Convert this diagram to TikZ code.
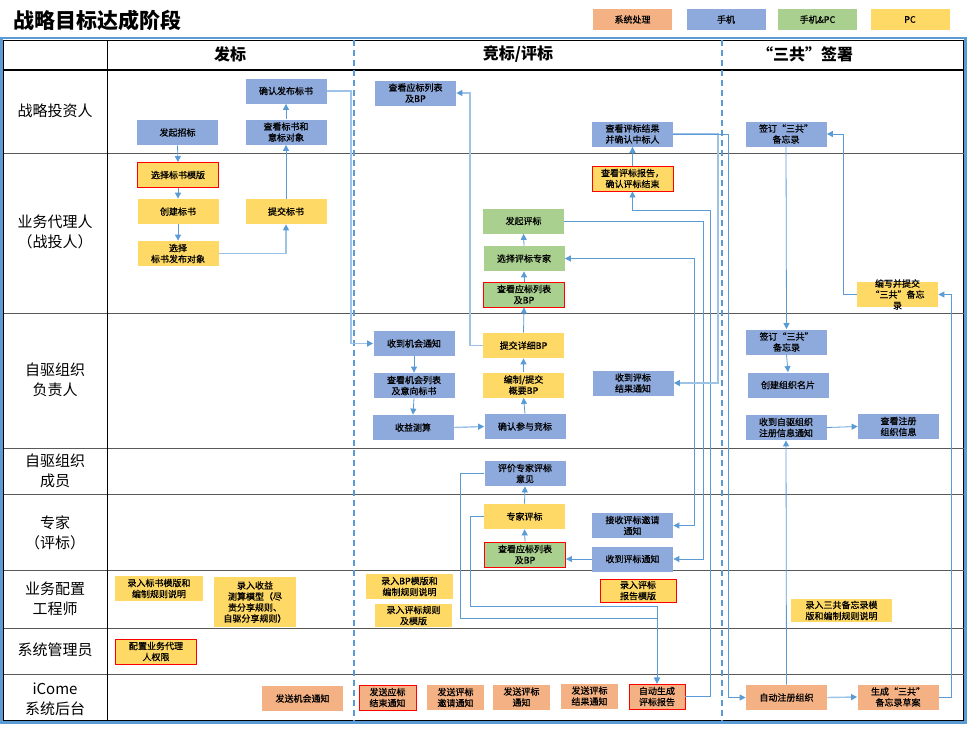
\documentclass[tikz,border=0pt]{standalone}
\usepackage{fontspec}
\setmainfont{Noto Sans CJK SC}
\newfontfamily\boxfont[FakeBold=0.8]{Noto Sans CJK SC}
\usetikzlibrary{arrows.meta}
\definecolor{phoneblue}{HTML}{8EA9DB}
\definecolor{pcyellow}{HTML}{FFD966}
\definecolor{bothgreen}{HTML}{A9D08E}
\definecolor{sysorange}{HTML}{F4B183}
\definecolor{linkblue}{HTML}{5B9BD5}
\definecolor{lightlink}{HTML}{9DC3E6}
\definecolor{rowgray}{HTML}{7F7F7F}
\tikzset{every picture/.style={line width=0.75pt}}

\begin{document}
\begin{tikzpicture}[x=1pt,y=-1pt,
    box/.style={minimum width=81pt, minimum height=25pt, inner sep=0pt, align=center, font=\boxfont\fontsize{9}{11}\selectfont},
    phone/.style={box, fill=phoneblue},
    pcbox/.style={box, fill=pcyellow},
    both/.style={box, fill=bothgreen},
    sysbox/.style={box, fill=sysorange},
    redframe/.style={draw=red, line width=0.9pt},
    conn/.style={draw=linkblue, line width=0.8pt, -{Triangle[width=6pt,length=6pt]}},
    lightconn/.style={draw=lightlink, line width=1.4pt, -{Triangle[width=6pt,length=6pt,color=linkblue]}},
    lane/.style={font=\fontsize{15}{20}\selectfont, align=center},
    head/.style={font=\bfseries\fontsize{16}{18}\selectfont}]
    \useasboundingbox (0,0) rectangle (968,728);

    % 标题和图例
    \node[anchor=west, font=\bfseries\fontsize{21}{24}\selectfont] (title) at (10,20) {战略目标达成阶段};
    \node[sysbox, minimum width=79pt, minimum height=21pt] (lgsys) at (632.5,19.5) {系统处理};
    \node[phone, minimum width=79pt, minimum height=21pt] (lgphone) at (726,19.5) {手机};
    \node[both, minimum width=79pt, minimum height=21pt] (lgboth) at (817.5,19.5) {手机\&PC};
    \node[pcbox, minimum width=79pt, minimum height=21pt] (lgpc) at (910,19.5) {PC};

    % 表格
    \draw[linkblue, line width=2.5pt] (1.5,38) rectangle (965.5,722.5);
    \draw[black, line width=0.8pt] (3.5,40) rectangle (963.5,720.5);
    \draw[black, line width=1.2pt] (3.5,70) -- (963.5,70);
    \foreach \y in {153,313,448,494,570,628,674}
        \draw[rowgray!70!black, line width=1pt] (3.5,\y) -- (963.5,\y);
    \draw[black, line width=1pt] (107,40) -- (107,720.5);
    \draw[linkblue, line width=1.6pt, dash pattern=on 6pt off 4pt] (354,40) -- (354,720.5);
    \draw[linkblue, line width=1.6pt, dash pattern=on 6pt off 4pt] (722,40) -- (722,720.5);

    % 阶段
    \node[head] (hfb) at (230,54) {发标};
    \node[head] (hjb) at (518,54) {竞标/评标};
    \node[head] (hsg) at (805,54) {“三共”签署};

    % 角色
    \node[lane] (rtz) at (55,111) {战略投资人};
    \node[lane] (rdl) at (55,232) {业务代理人\\（战投人）};
    \node[lane] (rfz) at (55,380) {自驱组织\\负责人};
    \node[lane] (rcy) at (55,471) {自驱组织\\成员};
    \node[lane] (rzj) at (55,533) {专家\\（评标）};
    \node[lane] (rgc) at (55,599) {业务配置\\工程师};
    \node[lane] (rgl) at (55,650) {系统管理员};
    \node[lane] (rht) at (55,699) {iCome\\系统后台};

    % 发标
    \node[phone] (fqzb) at (177.5,132.5) {发起招标};
    \node[phone] (qrfb) at (286,91) {确认发布标书};
    \node[phone] (ckbs) at (286,132) {查看标书和\\意标对象};
    \node[pcbox, redframe] (xzmb) at (178,175) {选择标书模版};
    \node[pcbox] (cjbs) at (178,211.5) {创建标书};
    \node[pcbox] (xzfb) at (178,253.5) {选择\\标书发布对象};
    \node[pcbox] (tjbs) at (286,211.5) {提交标书};
    \node[pcbox, minimum width=88pt] (lrbs) at (159,588.5) {录入标书模版和\\编制规则说明};
    \node[pcbox, minimum width=82pt, minimum height=50pt] (lrsy) at (255,602) {录入收益\\测算模型（尽\\责分享规则、\\自驱分享规则）};
    \node[pcbox, redframe] (pzqx) at (156,651.5) {配置业务代理\\人权限};
    \node[sysbox] (fsjh) at (302.5,698.5) {发送机会通知};

    % 竞标/评标
    \node[phone] (cktbi) at (415.5,93) {查看应标列表\\及BP};
    \node[phone] (ckjg) at (632.5,134) {查看评标结果\\并确认中标人};
    \node[pcbox, redframe] (ckbg) at (632.5,178.5) {查看评标报告，\\确认评标结束};
    \node[both] (fqpb) at (523.5,221) {发起评标};
    \node[both] (xzzj) at (524,258.5) {选择评标专家};
    \node[both, redframe] (cktba) at (524,294.5) {查看应标列表\\及BP};
    \node[phone] (sdjh) at (414,343.5) {收到机会通知};
    \node[phone] (ckjh) at (414,385.5) {查看机会列表\\及意向标书};
    \node[phone] (sycs) at (413,427.5) {收益测算};
    \node[pcbox] (tjxx) at (523.5,345.5) {提交详细BP};
    \node[pcbox] (bzgy) at (523.5,385) {编制/提交\\概要BP};
    \node[phone] (qrcy) at (525,426.5) {确认参与竞标};
    \node[phone] (sdjgtz) at (633,383) {收到评标\\结果通知};
    \node[phone] (pjyj) at (525,473.5) {评价专家评标\\意见};
    \node[pcbox] (zjpb) at (524.5,516.5) {专家评标};
    \node[both, redframe] (cktbe) at (525,554.5) {查看应标列表\\及BP};
    \node[phone] (jsyq) at (632.5,525.5) {接收评标邀请\\通知};
    \node[phone] (sdpb) at (632.5,559) {收到评标通知};
    \node[pcbox, minimum width=87pt] (lrbp) at (409.5,586.5) {录入BP模版和\\编制规则说明};
    \node[pcbox, minimum width=77pt, minimum height=23pt] (lrgz) at (413.5,615.5) {录入评标规则\\及模版};
    \node[pcbox, redframe, minimum width=76pt, minimum height=23pt] (lrbg) at (638,590.5) {录入评标\\报告模版};
    \node[sysbox, redframe, minimum width=57pt] (fsjs) at (387.5,697.5) {发送应标\\结束通知};
    \node[sysbox, minimum width=57pt] (fsyq) at (455.5,697.5) {发送评标\\邀请通知};
    \node[sysbox, minimum width=57pt] (fspb) at (521.5,697) {发送评标\\通知};
    \node[sysbox, minimum width=57pt] (fsjg) at (589.5,696) {发送评标\\结果通知};
    \node[sysbox, redframe, minimum width=56pt] (zdbg) at (657,696.5) {自动生成\\评标报告};

    % “三共”签署
    \node[phone] (qdtz) at (786,134) {签订“三共”\\备忘录};
    \node[pcbox, label={[font=\boxfont\fontsize{9}{11}\selectfont, align=center]center:编写并提交\\“三共”备忘\\录}] (bxtj) at (897.5,294.5) {};
    \node[phone] (qdfz) at (786.5,342) {签订“三共”\\备忘录};
    \node[phone] (cjmp) at (788,385) {创建组织名片};
    \node[phone] (sdzc) at (786,427.5) {收到自驱组织\\注册信息通知};
    \node[phone] (ckzc) at (898.5,426.5) {查看注册\\组织信息};
    \node[pcbox, minimum width=101pt, minimum height=23pt] (lrsg) at (841.5,610.5) {录入三共备忘录模\\版和编制规则说明};
    \node[sysbox] (zdzc) at (786.5,697.5) {自动注册组织};
    \node[sysbox] (scca) at (898,697) {生成“三共”\\备忘录草案};

    % 走线的竖向通道
    \coordinate (laneA) at (351,0);
    \coordinate (laneB) at (470,0);
    \coordinate (laneC) at (694,0);
    \coordinate (laneD) at (703,0);
    \coordinate (bendE) at (710,210);
    \coordinate (laneF) at (718,0);
    \coordinate (laneG) at (728,0);
    \coordinate (laneH) at (843,0);
    \coordinate (laneI) at (951,0);
    \coordinate (jn1) at (470,606);
    \coordinate (jn2) at (460,618);

    % 发标流程
    \draw[conn] (fqzb.south) -- (xzmb.north);
    \draw[conn] (xzmb.south) -- (cjbs.north);
    \draw[conn] (cjbs.south) -- (xzfb.north);
    \draw[lightconn] (xzfb.east) -| (tjbs.south);
    \draw[conn] (tjbs.north) -- (ckbs.south);
    \draw[conn] (ckbs.north) -- (qrfb.south);
    \draw[lightconn] (qrfb.east) -- (qrfb.east -| laneA) |- (sdjh.west);

    % 竞标流程
    \draw[conn] (sdjh.south) -- (ckjh.north);
    \draw[conn] (ckjh.south) -- (sycs.north);
    \draw[lightconn] (sycs.east) -- (qrcy.west);
    \draw[conn] (qrcy.north) -- (bzgy.south);
    \draw[conn] (bzgy.north) -- (tjxx.south);
    \draw[conn] (tjxx.north) -- (cktba.south);
    \draw[lightconn] (tjxx.west) -- (tjxx.west -| laneB) |- (cktbi.east);
    \draw[conn] (cktba.north) -- (xzzj.south);
    \draw[conn] (xzzj.north) -- (fqpb.south);

    % 评标流程
    \draw[conn, {Triangle[width=6pt,length=6pt]}-{Triangle[width=6pt,length=6pt]}] (xzzj.east) -- (xzzj.east -| laneC) |- (jsyq.east);
    \draw[conn] (fqpb.east) -- (fqpb.east -| laneD) |- (sdpb.east);
    \draw[conn] (sdpb.west) -- (sdpb.west -| cktbe.east);
    \draw[conn] (cktbe.north) -- (zjpb.south);
    \draw[conn] (zjpb.north) -- (pjyj.south);
    \draw[conn] (zjpb.west) -| (jn1) -| (zdbg.north);
    \draw[conn] (pjyj.west) -| (jn2) -| (zdbg.north);
    \draw[conn] (zdbg.east) -| (bendE) -| (ckbg.south);
    \draw[conn] (ckbg.north) -- (ckjg.south);
    \draw[lightconn] (ckjg.east) -- (ckjg.east -| laneF) |- (sdjgtz.east);
    \draw[conn] (ckjg.east) -- (ckjg.east -| laneG) |- (zdzc.west);

    % 签署流程
    \draw[conn] (qdtz.south) -- (qdfz.north);
    \draw[conn] (qdfz.south) -- (cjmp.north);
    \draw[conn] (zdzc.north) -- (sdzc.south);
    \draw[conn] (sdzc.east) -- (ckzc.west);
    \draw[lightconn] (zdzc.east) -- (scca.west);
    \draw[conn] (scca.east) -- (scca.east -| laneI) |- (bxtj.east);
    \draw[conn] (bxtj.west) -- (bxtj.west -| laneH) |- (qdtz.east);
\end{tikzpicture}
\end{document}
